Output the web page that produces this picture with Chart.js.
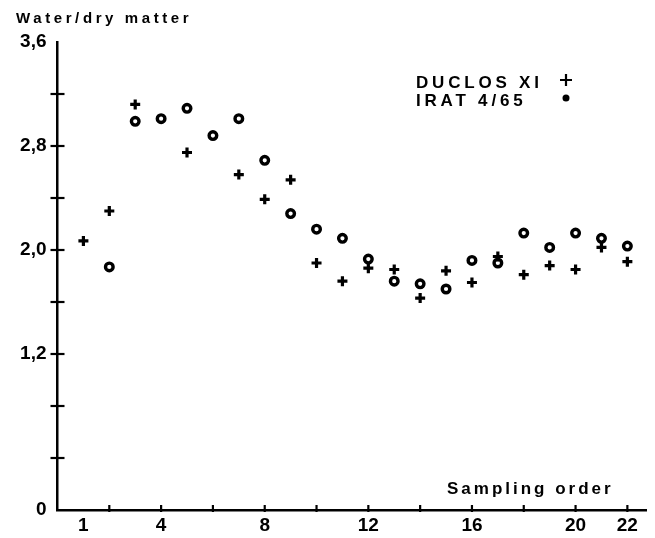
<!DOCTYPE html>
<html>
<head>
<meta charset="utf-8">
<script src="https://cdn.jsdelivr.net/npm/chart.js@4/dist/chart.umd.min.js"></script>
<style>
  html, body { margin: 0; padding: 0; background: #fff; }
  #wrap { width: 655px; height: 538px; }
</style>
</head>
<body>
<div id="wrap"><canvas id="c" width="655" height="538"></canvas></div>
<script>
// ---- data ----
const samplingOrder = [1,2,3,4,5,6,7,8,9,10,11,12,13,14,15,16,17,18,19,20,21,22];
const duclosXI = [2.07,2.30,3.12,null,2.75,null,2.58,2.39,2.54,1.90,1.76,1.86,1.85,1.63,1.84,1.75,1.95,1.81,1.88,1.85,2.02,1.91];
const irat465  = [null,1.87,2.99,3.01,3.09,2.88,3.01,2.69,2.28,2.16,2.09,1.93,1.76,1.74,1.70,1.92,1.90,2.13,2.02,2.13,2.09,2.03];
const xTickLabels = [1,4,8,12,16,20,22];
const xTickMarks = [2,4,6,8,10,12,14,16,18,20,22];
const yTickLabels = [0,1.2,2.0,2.8,3.6];
const yTickMarks = [0.4,0.8,1.2,1.6,2.0,2.4,2.8,3.2];
const seriesNames = ['DUCLOS XI','IRAT 4/65'];
const yAxisTitle = 'Water/dry matter';
const xAxisTitle = 'Sampling order';

const toPoints = (arr) => samplingOrder.map((x,i) => ({x, y: arr[i]})).filter(p => p.y !== null);
const FONT = '"Liberation Sans", Arial, sans-serif';

const plusStyle = { pointStyle: 'cross', radius: 5, borderWidth: 3.2, borderColor: '#000', backgroundColor: '#000' };
const dotStyle  = { pointStyle: 'circle', radius: 3.8, borderWidth: 3.4, borderColor: '#000', backgroundColor: '#fff' };

const decor = {
  id: 'decor',
  afterDraw(chart) {
    const ctx = chart.ctx;
    const xs = chart.scales.x, ys = chart.scales.y;
    const ca = chart.chartArea;
    ctx.save();
    ctx.strokeStyle = '#000';
    ctx.lineWidth = 2.2;
    // y cross tick marks
    yTickMarks.forEach(v => {
      const py = ys.getPixelForValue(v);
      ctx.beginPath(); ctx.moveTo(ca.left - 7, py); ctx.lineTo(ca.left + 7, py); ctx.stroke();
    });
    // x tick marks
    xTickMarks.forEach(v => {
      const px = xs.getPixelForValue(v);
      ctx.beginPath(); ctx.moveTo(px, ca.bottom - 5); ctx.lineTo(px, ca.bottom + 2); ctx.stroke();
    });
    // titles
    ctx.fillStyle = '#000';
    ctx.textBaseline = 'alphabetic';
    ctx.textAlign = 'left';
    ctx.font = 'bold 15px ' + FONT;
    ctx.letterSpacing = '3.6px';
    ctx.fillText(yAxisTitle, 16, 23);
    ctx.font = 'bold 17px ' + FONT;
    ctx.letterSpacing = '3px';
    ctx.fillText(xAxisTitle, 447, 494);
    // legend
    ctx.font = 'bold 17px ' + FONT;
    ctx.letterSpacing = '3.8px';
    ctx.fillText(seriesNames[0], 416, 88);
    ctx.fillText(seriesNames[1], 416, 106);
    ctx.letterSpacing = '0px';
    Chart.helpers.drawPoint(ctx, {pointStyle: 'cross', radius: 6, borderWidth: 3}, 566, 80);
    ctx.fillStyle = '#000';
    ctx.beginPath(); ctx.arc(566, 98, 3.5, 0, Math.PI*2); ctx.fill();
    ctx.restore();
  }
};

new Chart(document.getElementById('c'), {
  type: 'scatter',
  data: {
    datasets: [
      Object.assign({ label: seriesNames[0], data: toPoints(duclosXI) }, plusStyle),
      Object.assign({ label: seriesNames[1], data: toPoints(irat465) }, dotStyle)
    ]
  },
  options: {
    responsive: false,
    animation: false,
    devicePixelRatio: 1,
    layout: { padding: { top: 42, right: 3, left: 0, bottom: 0 } },
    plugins: { legend: { display: false }, tooltip: { enabled: false } },
    scales: {
      x: {
        type: 'linear', min: 0, max: 22.75,
        afterBuildTicks: (s) => { s.ticks = xTickLabels.map(v => ({value: v})); },
        afterFit: (s) => { s.height = 28; },
        grid: { display: false },
        border: { display: true, color: '#000', width: 2.5 },
        ticks: { color: '#000', padding: -4, font: { family: FONT, size: 19, weight: 'bold' }, maxRotation: 0, autoSkip: false,
                 callback: (v) => String(v) }
      },
      y: {
        type: 'linear', min: 0, max: 3.6,
        afterBuildTicks: (s) => { s.ticks = yTickLabels.map(v => ({value: v})); },
        afterFit: (s) => { s.width = 57.5; },
        grid: { display: false },
        border: { display: true, color: '#000', width: 2.5 },
        ticks: { color: '#000', padding: 3, font: { family: FONT, size: 19, weight: 'bold' }, autoSkip: false,
                 callback: (v) => v === 0 ? '0' : v.toFixed(1).replace('.', ',') }
      }
    }
  },
  plugins: [decor]
});
</script>
</body>
</html>
